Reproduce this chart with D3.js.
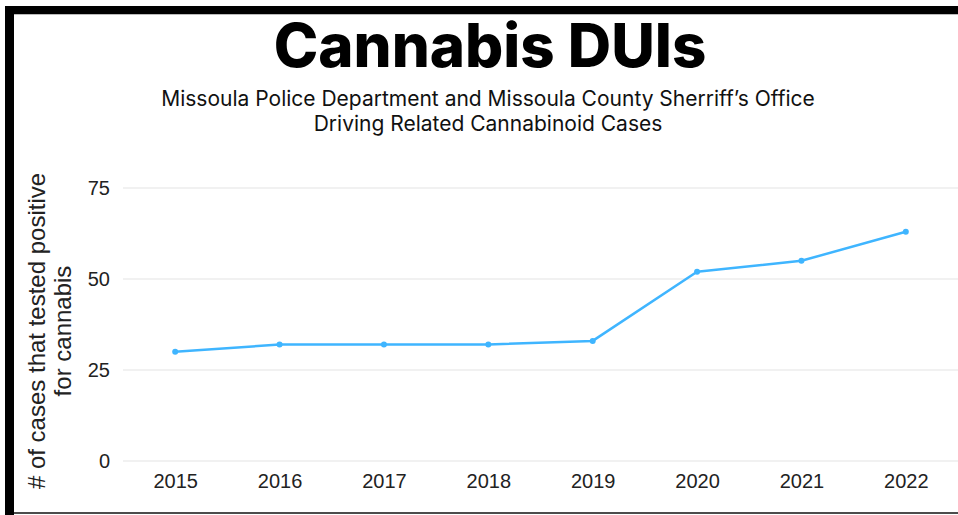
<!DOCTYPE html>
<html>
<head>
<meta charset="utf-8">
<script src="https://cdn.jsdelivr.net/npm/d3@7"></script>
<style>
  html, body { margin: 0; padding: 0; background: #fff; }
  svg { display: block; }
</style>
</head>
<body>
<svg id="chart" width="958" height="515"></svg>
<script>
// Driving-related cannabinoid cases per year
const years = ["2015", "2016", "2017", "2018", "2019", "2020", "2021", "2022"];
const cases = [30, 32, 32, 32, 33, 52, 55, 63];
const yTicks = [0, 25, 50, 75];

const titleText = "Cannabis DUIs";
const subtitleLines = [
  "Missoula Police Department and Missoula County Sherriff\u2019s Office",
  "Driving Related Cannabinoid Cases"
];
const yTitleLines = ["# of cases that tested positive", "for cannabis"];

const W = 958, H = 515;
const svg = d3.select("#chart");

// frame
svg.append("rect").attr("x", 0).attr("y", 0).attr("width", W).attr("height", H).attr("fill", "#fff");
svg.append("rect").attr("x", 5).attr("y", 6).attr("width", W - 5).attr("height", 8).attr("fill", "#000");
svg.append("rect").attr("x", 5).attr("y", 6).attr("width", 9).attr("height", H - 6).attr("fill", "#000");
svg.append("line").attr("x1", 14).attr("x2", W).attr("y1", 14.5).attr("y2", 14.5).attr("stroke", "#bbb").attr("stroke-width", 1);
svg.append("line").attr("x1", 14).attr("x2", W).attr("y1", 513).attr("y2", 513).attr("stroke", "#111").attr("stroke-width", 1.5);

// titles
svg.append("text")
  .attr("x", 490).attr("y", 67)
  .attr("text-anchor", "middle")
  .attr("font-family", "Inter, 'Open Sans', sans-serif")
  .attr("font-weight", 800)
  .attr("font-size", 60)
  .attr("fill", "#000")
  .text(titleText);

svg.append("g").selectAll("text")
  .data(subtitleLines)
  .join("text")
  .attr("x", 488)
  .attr("y", (d, i) => 106 + i * 25)
  .attr("text-anchor", "middle")
  .attr("font-family", "Inter, sans-serif")
  .attr("font-size", 21)
  .attr("fill", "#111")
  .text(d => d);

// scales
const x = d3.scalePoint().domain(years).range([123, 958]).padding(0.5);
const y = d3.scaleLinear().domain([0, 75]).range([461, 188]);

// grid
svg.append("g").selectAll("line")
  .data(yTicks)
  .join("line")
  .attr("x1", 123).attr("x2", W)
  .attr("y1", d => y(d)).attr("y2", d => y(d))
  .attr("stroke", "#e3e3e3").attr("stroke-width", 1.2);

// y axis labels
const yAxis = d3.axisLeft(y).tickValues(yTicks).tickSize(0).tickPadding(0);
const gy = svg.append("g").attr("transform", "translate(110,0)").call(yAxis);
gy.select(".domain").remove();
gy.selectAll("text")
  .attr("font-family", "'Liberation Sans', Arial, sans-serif")
  .attr("font-size", 20)
  .attr("fill", "#222");

// x axis labels
const xAxis = d3.axisBottom(x).tickSize(0).tickPadding(0);
const gx = svg.append("g").attr("transform", "translate(0,474)").call(xAxis);
gx.select(".domain").remove();
gx.selectAll("text")
  .attr("font-family", "'Liberation Sans', Arial, sans-serif")
  .attr("font-size", 20)
  .attr("fill", "#222");

// y axis title
svg.append("g")
  .attr("transform", "translate(0,331) rotate(-90)")
  .selectAll("text")
  .data(yTitleLines)
  .join("text")
  .attr("x", 0)
  .attr("y", (d, i) => 45 + i * 26)
  .attr("text-anchor", "middle")
  .attr("font-family", "'Liberation Sans', Arial, sans-serif")
  .attr("font-size", 24)
  .attr("fill", "#222")
  .text(d => d);

// line
const pts = years.map((yr, i) => ({ yr, v: cases[i] }));
svg.append("path")
  .datum(pts)
  .attr("fill", "none")
  .attr("stroke", "#3fb5ff")
  .attr("stroke-width", 2.5)
  .attr("stroke-linejoin", "round")
  .attr("d", d3.line().x(d => x(d.yr)).y(d => y(d.v)));

svg.append("g").selectAll("circle")
  .data(pts)
  .join("circle")
  .attr("cx", d => x(d.yr))
  .attr("cy", d => y(d.v))
  .attr("r", 3)
  .attr("fill", "#3fb5ff");
</script>
</body>
</html>
